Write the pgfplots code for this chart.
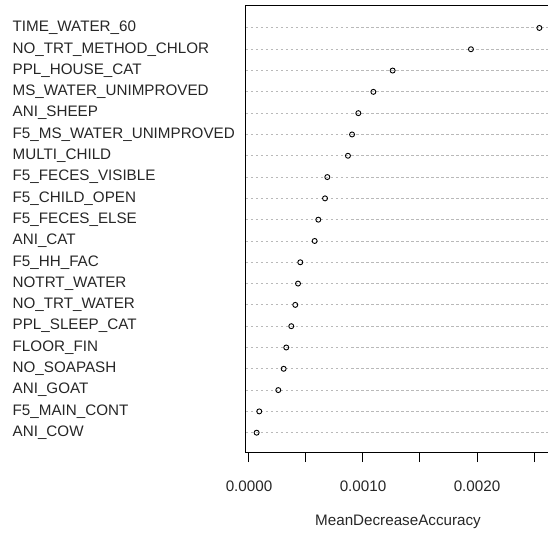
\documentclass[border=0pt]{standalone}
\usepackage{fontspec}
\setmainfont{Liberation Sans}
\usepackage{pgfplots}
\usepackage{pgfplotstable}
\pgfplotsset{compat=1.18}
\pgfplotstableread{
y x
20 0.002547
19 0.001947
18 0.001260
17 0.001091
16 0.000959
15 0.000904
14 0.000868
13 0.000687
12 0.000667
11 0.000608
10 0.000576
9 0.000450
8 0.000430
7 0.000406
6 0.000371
5 0.000327
4 0.000304
3 0.000257
2 0.000090
1 0.000067
}\datatable
\definecolor{gridgray}{RGB}{185,185,185}
\begin{document}
\begin{tikzpicture}
\path[use as bounding box] (-246pt,-81pt) rectangle (302pt,452pt);
\begin{axis}[
  at={(0pt,0pt)}, anchor=south west,
  scale only axis, width=304pt, height=446pt,
  xmin=-0.0000263, xmax=0.00264035,
  ymin=0.094, ymax=21.03,
  axis line style={black, line width=1pt},
  xtick={0,0.0005,0.001,0.0015,0.002,0.0025},
  xticklabels={0.0000,,0.0010,,0.0020,},
  scaled x ticks=false,
  xtick pos=bottom,
  tick align=outside,
  major tick length=10pt,
  xtick style={black, line width=1pt},
  ytick={1,...,20},
  yticklabels={ANI\_COW,F5\_MAIN\_CONT,ANI\_GOAT,NO\_SOAPASH,FLOOR\_FIN,PPL\_SLEEP\_CAT,NO\_TRT\_WATER,NOTRT\_WATER,F5\_HH\_FAC,ANI\_CAT,F5\_FECES\_ELSE,F5\_CHILD\_OPEN,F5\_FECES\_VISIBLE,MULTI\_CHILD,F5\_MS\_WATER\_UNIMPROVED,ANI\_SHEEP,MS\_WATER\_UNIMPROVED,PPL\_HOUSE\_CAT,NO\_TRT\_METHOD\_CHLOR,TIME\_WATER\_60},
  ytick style={draw=none},
  ymajorgrids,
  y grid style={gridgray, line width=0.9pt, dash pattern=on 2.5pt off 2.5pt},
  every tick label/.append style={font=\fontsize{15.2}{18}\selectfont, text=black!85},
  yticklabel style={anchor=west, inner xsep=0pt, xshift=-223.5pt},
  xticklabel style={anchor=north},
  xticklabel shift=15pt,
  xlabel={MeanDecreaseAccuracy},
  xlabel style={font=\fontsize{15.2}{18}\selectfont, text=black!85, at={(axis description cs:0.5,0)}, anchor=center, yshift=-70pt},
]
\addplot[only marks, mark=o, mark size=2.5pt, mark options={line width=0.9pt, black}] table[x=x, y=y] {\datatable};
\end{axis}
\end{tikzpicture}
\end{document}
